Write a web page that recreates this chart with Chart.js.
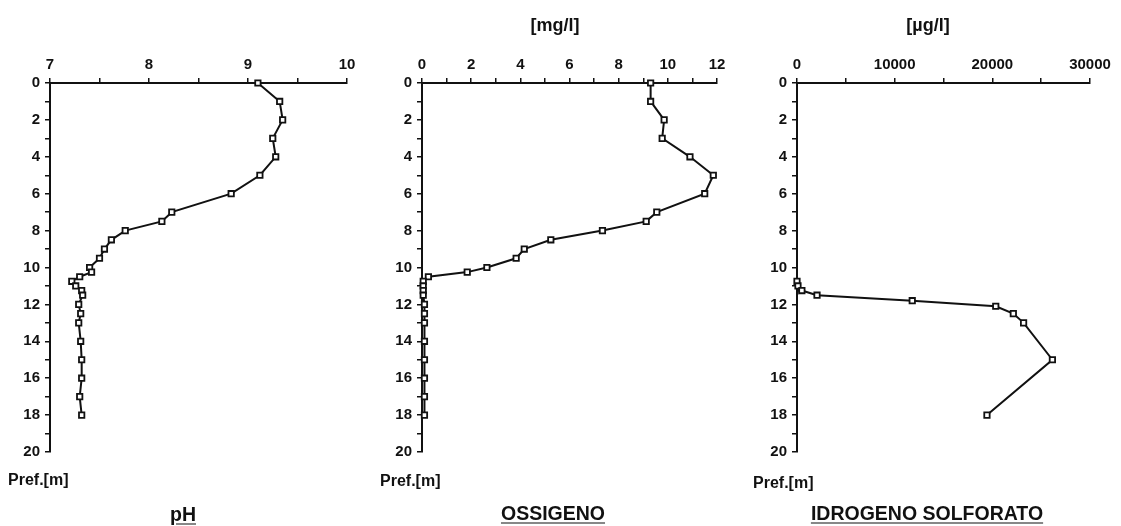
<!DOCTYPE html>
<html>
<head>
<meta charset="utf-8">
<script src="https://cdn.jsdelivr.net/npm/chart.js@4/dist/chart.umd.min.js"></script>
<style>
  body { margin: 0; background: #fff; width: 1121px; height: 526px; position: relative; overflow: hidden;
         font-family: "Liberation Sans", Arial, sans-serif; font-weight: bold; color: #111; }
  .panel { position: absolute; top: 0; height: 526px; }
  .txt { position: absolute; white-space: nowrap; transform: translate(-50%, -50%); }
  .pref { position: absolute; font-size: 16px; transform: translateY(-50%); }
  .titulo { font-size: 19.5px; text-decoration: underline; text-underline-offset: 3px; }
  .unidad { font-size: 18px; }
</style>
</head>
<body>
<div class="panel" style="left:0;width:370px"><canvas id="chartPH" width="370" height="526"></canvas></div>
<div class="panel" style="left:370px;width:370px"><canvas id="chartO2" width="370" height="526"></canvas></div>
<div class="panel" style="left:740px;width:381px"><canvas id="chartH2S" width="381" height="526"></canvas></div>

<div class="txt unidad" style="left:555px;top:25px">[mg/l]</div>
<div class="txt unidad" style="left:928px;top:25px">[µg/l]</div>

<div class="pref" style="left:8px;top:480px">Pref.[m]</div>
<div class="pref" style="left:380px;top:481px">Pref.[m]</div>
<div class="pref" style="left:753px;top:483px">Pref.[m]</div>

<div class="txt titulo" style="left:183px;top:514px">pH</div>
<div class="txt titulo" style="left:553px;top:513px">OSSIGENO</div>
<div class="txt titulo" style="left:927px;top:513px">IDROGENO SOLFORATO</div>

<script>
// Profundidades (m) y valores
const profPH = [0, 1, 2, 3, 4, 5, 6, 7, 7.5, 8, 8.5, 9, 9.5, 10, 10.25, 10.5, 10.75, 11, 11.25, 11.5, 12, 12.5, 13, 14, 15, 16, 17, 18];
const valoresPH = [9.10, 9.32, 9.35, 9.25, 9.28, 9.12, 8.83, 8.23, 8.13, 7.76, 7.62, 7.55, 7.50, 7.40, 7.42, 7.30, 7.22, 7.26, 7.32, 7.33, 7.29, 7.31, 7.29, 7.31, 7.32, 7.32, 7.30, 7.32];

const profO2 = [0, 1, 2, 3, 4, 5, 6, 7, 7.5, 8, 8.5, 9, 9.5, 10, 10.25, 10.5, 10.75, 11, 11.25, 11.5, 12, 12.5, 13, 14, 15, 16, 17, 18];
const valoresO2 = [9.3, 9.3, 9.85, 9.77, 10.9, 11.85, 11.5, 9.55, 9.12, 7.34, 5.24, 4.16, 3.83, 2.64, 1.84, 0.26, 0.05, 0.05, 0.05, 0.05, 0.1, 0.1, 0.1, 0.1, 0.1, 0.1, 0.1, 0.1];

const profH2S = [10.75, 11, 11.25, 11.5, 11.8, 12.1, 12.5, 13, 15, 18];
const valoresH2S = [0, 100, 500, 2050, 11800, 20350, 22150, 23200, 26150, 19450];

// Etiquetas de los ejes
const etiquetasPH = [7, 8, 9, 10];
const etiquetasO2 = [0, 2, 4, 6, 8, 10, 12];
const etiquetasH2S = [0, 10000, 20000, 30000];
const etiquetasProf = [0, 2, 4, 6, 8, 10, 12, 14, 16, 18, 20];

const fuente = { family: '"Liberation Sans", Arial, sans-serif', size: 15, weight: 'bold' };

function crearPerfil(id, prof, valores, cfg) {
  const ctx = document.getElementById(id).getContext('2d');
  return new Chart(ctx, {
    type: 'scatter',
    data: {
      datasets: [{
        data: valores.map((v, i) => ({ x: v, y: prof[i] })),
        showLine: true,
        clip: false,
        borderColor: '#111',
        borderWidth: 2,
        pointStyle: 'rect',
        pointRadius: 3.8,
        pointBackgroundColor: '#fff',
        pointBorderColor: '#111',
        pointBorderWidth: 1.8
      }]
    },
    options: {
      responsive: false,
      animation: false,
      devicePixelRatio: 1,
      layout: { padding: { top: 0, left: 0, right: cfg.derecha, bottom: 74 } },
      plugins: { legend: { display: false }, tooltip: { enabled: false } },
      scales: {
        x: {
          type: 'linear',
          position: 'top',
          min: cfg.min,
          max: cfg.max,
          afterFit: s => { s.height = 83; },
          ticks: {
            stepSize: cfg.paso,
            autoSkip: false,
            maxRotation: 0,
            color: '#111',
            font: fuente,
            padding: 4,
            callback: v => cfg.etiquetas.includes(v) ? String(v) : ''
          },
          grid: { drawOnChartArea: false, color: '#111', lineWidth: 1.5, tickLength: 5 },
          border: { color: '#111', width: 2 }
        },
        y: {
          type: 'linear',
          reverse: true,
          min: 0,
          max: 20,
          afterFit: s => { s.width = cfg.ancho; },
          ticks: {
            stepSize: 1,
            autoSkip: false,
            color: '#111',
            font: fuente,
            padding: 5,
            callback: v => etiquetasProf.includes(v) ? String(v) : ''
          },
          grid: { drawOnChartArea: false, color: '#111', lineWidth: 1.5, tickLength: 5 },
          border: { color: '#111', width: 2 }
        }
      }
    }
  });
}

crearPerfil('chartPH', profPH, valoresPH, { min: 7, max: 10, paso: 0.5, etiquetas: etiquetasPH, ancho: 50, derecha: 23 });
crearPerfil('chartO2', profO2, valoresO2, { min: 0, max: 12, paso: 1, etiquetas: etiquetasO2, ancho: 52, derecha: 23 });
crearPerfil('chartH2S', profH2S, valoresH2S, { min: 0, max: 30000, paso: 5000, etiquetas: etiquetasH2S, ancho: 57, derecha: 31 });
</script>
</body>
</html>
